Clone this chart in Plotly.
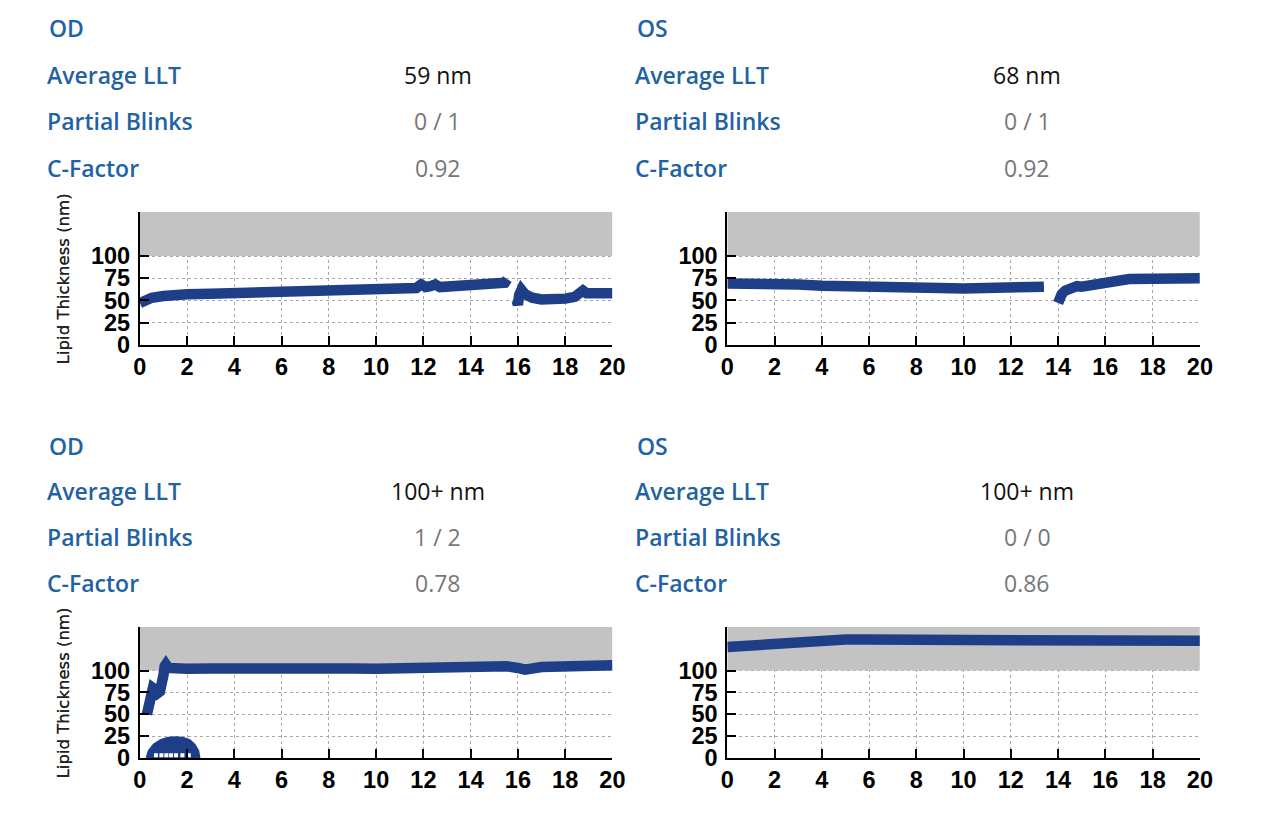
import plotly.graph_objects as go

W, H = 1255, 810
# measured mapping from figure pixels to the photographed window pixels
SX, SY, OX, OY = 0.985, 0.9835, 14.0, 8.4

# ---------------- data ----------------
# Panel A (top-left, OD)
a_x1 = [0, 0.2, 0.5, 1.0, 1.5, 2, 3, 4, 5, 6, 7, 7.5, 8, 9, 10, 11, 11.7, 11.9, 12.1, 12.3, 12.5, 12.7, 13, 14, 15, 15.3, 15.45, 15.55]
a_y1 = [47, 50, 53, 55, 57, 57, 57.5, 58, 59, 60, 60.5, 61, 61.5, 62, 62.5, 63.5, 64, 68, 65, 66, 68, 65, 65.5, 66.5, 67, 68, 70, 74]
a_x2 = [15.95, 16.0, 16.05, 16.15, 16.3, 16.6, 17, 17.5, 18, 18.4, 18.6, 18.75, 18.9, 19.2, 20]
a_y2 = [50, 45, 56, 62, 57, 53, 51, 50.5, 52, 54, 57, 61, 58, 58, 58]

# Panel B (top-right, OS)
b_x1 = [0, 1, 2, 3, 4, 5, 6, 7, 8, 9, 10, 11, 12, 13, 13.4]
b_y1 = [69, 69.5, 69.5, 68, 66.5, 65.5, 65, 64.5, 64.5, 64, 63.5, 64, 64.5, 65, 65.5]
b_x2 = [14.0, 14.05, 14.15, 14.3, 14.5, 14.8, 15.0, 15.3, 15.6, 16, 16.5, 17, 18, 19, 19.5, 20]
b_y2 = [47, 52, 57, 61, 64, 66, 65.5, 67, 69, 72, 73.5, 74, 74.5, 76, 75.5, 75]

# Panel C (bottom-left, OD)
c_x = [0.3, 0.35, 0.45, 0.55, 0.65, 0.75, 0.85, 0.95, 1.0, 1.05, 1.1, 1.2, 1.5, 2, 3, 4, 5, 6, 7, 8, 9, 10, 11, 12, 13, 14, 15, 15.5, 16, 16.3, 17, 18, 19, 20]
c_y = [50, 60, 75, 80, 78, 74, 76, 84, 95, 105, 107, 103, 102, 102, 102.5, 103, 102, 101, 101.5, 103, 102.5, 102, 103, 104, 104, 106, 106, 105, 103, 101, 104, 105.5, 107, 106]
c_dome_x = [0.3, 0.4, 0.6, 0.9, 1.2, 1.5, 1.8, 2.1, 2.3, 2.45, 2.5, 0.3]
c_dome_y = [0, 8, 15, 20, 22.5, 23, 22.5, 20, 15, 8, 0, 0]
c_dots_x = [0.68, 0.91, 1.12, 1.32, 1.53, 1.8, 2.07]
c_dots_y = [3, 3, 3, 3, 3, 3, 3]

# Panel D (bottom-right, OS)
d_x = [0, 0.5, 1, 1.5, 2, 2.5, 3, 3.5, 4, 5, 6, 7, 8, 9, 10, 11, 12, 13, 14, 15, 16, 16.5, 17, 17.5, 18, 19, 20]
d_y = [127, 128, 129, 129.5, 130, 130, 131.5, 133.5, 135, 135.5, 135.5, 135.5, 135, 135, 135, 135, 135, 135, 135, 135, 135.5, 135, 133.5, 133.5, 134, 134.5, 134]

x_ticks = [0, 2, 4, 6, 8, 10, 12, 14, 16, 18, 20]
y_ticks = [0, 25, 50, 75, 100]
y_title = "Lipid Thickness (nm)"

headers = [
    ("OD", "59 nm", "0 / 1", "0.92"),
    ("OS", "68 nm", "0 / 1", "0.92"),
    ("OD", "100+ nm", "1 / 2", "0.78"),
    ("OS", "100+ nm", "0 / 0", "0.86"),
]
row_labels = ["Average LLT", "Partial Blinks", "C-Factor"]

# ---------------- styling ----------------
LINE = "#1e3f88"
BLUE = "#1f62a5"
GRAY_TXT = "#777777"
BAND = "#c3c3c3"
FONT = "Open Sans"
TICKFONT = dict(family="Liberation Sans", size=23.5, color="black", weight="bold")

def px_x(p):
    return ((p - OX) / SX) / W

def px_y(p):
    return 1 - ((p - OY) / SY) / H

# panel geometry in window pixels: (x0, x1, y of value 0, y of value 150)
panels = [
    (139, 612, 345, 212),
    (727, 1200, 345, 212),
    (139, 612, 758, 627),
    (727, 1200, 758, 627),
]
# header positions (label x, value center x, [y of title, row1, row2, row3])
header_pos = [
    (44, 437, [28, 75, 121, 168]),
    (633, 1027, [28, 75, 121, 168]),
    (44, 437, [446, 491, 537, 583]),
    (633, 1027, [446, 491, 537, 583]),
]

fig = go.Figure()

def add_line(x, y, i):
    sfx = "" if i == 0 else str(i + 1)
    fig.add_trace(go.Scatter(x=x, y=y, mode="lines",
                             line=dict(color=LINE, width=10.5),
                             xaxis="x" + sfx, yaxis="y" + sfx,
                             showlegend=False, hoverinfo="x+y"))

add_line(a_x1, a_y1, 0)
add_line(a_x2, a_y2, 0)
add_line(b_x1, b_y1, 1)
add_line(b_x2, b_y2, 1)
add_line(c_x, c_y, 2)
fig.add_trace(go.Scatter(x=c_dome_x, y=c_dome_y, mode="lines", fill="toself",
                         fillcolor=LINE, line=dict(color=LINE, width=3),
                         xaxis="x3", yaxis="y3", showlegend=False))
fig.add_trace(go.Scatter(x=c_dots_x, y=c_dots_y, mode="markers",
                         marker=dict(color="white", size=4, symbol="square"),
                         xaxis="x3", yaxis="y3", showlegend=False))
add_line(d_x, d_y, 3)

layout = dict(
    width=W, height=H, autosize=False,
    margin=dict(l=0, r=0, t=0, b=0, pad=0),
    paper_bgcolor="white", plot_bgcolor="white",
    showlegend=False,
    annotations=[], shapes=[],
)

for i, (x0, x1, yb, yt) in enumerate(panels):
    sfx = "" if i == 0 else str(i + 1)
    xa = dict(
        domain=[px_x(x0), px_x(x1)], range=[0, 20],
        anchor="y" + sfx,
        tickmode="array", tickvals=x_ticks,
        ticks="inside", ticklen=9, tickwidth=2, tickcolor="black",
        showline=True, linecolor="black", linewidth=2,
        showgrid=True, gridcolor="#a8a8a8", gridwidth=1, griddash="dot",
        zeroline=False, tickfont=TICKFONT, ticklabelstandoff=0,
        fixedrange=True,
    )
    ya = dict(
        domain=[px_y(yb), px_y(yt)], range=[0, 150],
        anchor="x" + sfx,
        tickmode="array", tickvals=y_ticks,
        ticks="inside", ticklen=9, tickwidth=2, tickcolor="black",
        showline=True, linecolor="black", linewidth=2,
        showgrid=True, gridcolor="#a8a8a8", gridwidth=1, griddash="dot",
        zeroline=False, tickfont=TICKFONT, ticklabelstandoff=3,
        fixedrange=True,
    )
    layout["xaxis" + sfx] = xa
    layout["yaxis" + sfx] = ya
    layout["shapes"].append(dict(
        type="rect", xref="x" + sfx, yref="y" + sfx,
        x0=0, x1=20, y0=100, y1=150,
        fillcolor=BAND, line=dict(width=0), layer="between",
    ))
    # y-axis title
    layout["annotations"].append(dict(
        text=y_title, xref="paper", yref="paper",
        x=px_x(62), y=px_y((yb + yt) / 2), textangle=-90,
        showarrow=False, xanchor="center", yanchor="middle",
        font=dict(family="DejaVu Sans", size=16.5, color="#222222"),
    ))
    # header text
    lx, vx, ys = header_pos[i]
    title, v1, v2, v3 = headers[i]
    layout["annotations"].append(dict(
        text=title, xref="paper", yref="paper", x=px_x(lx + 2), y=px_y(ys[0]),
        showarrow=False, xanchor="left", yanchor="middle",
        font=dict(family=FONT, size=23, color=BLUE, weight=600),
    ))
    for lab, val, yy, col in zip(row_labels, [v1, v2, v3], ys[1:],
                                 ["#111111", GRAY_TXT, GRAY_TXT]):
        layout["annotations"].append(dict(
            text=lab, xref="paper", yref="paper", x=px_x(lx), y=px_y(yy),
            showarrow=False, xanchor="left", yanchor="middle",
            font=dict(family=FONT, size=23, color=BLUE, weight=600),
        ))
        layout["annotations"].append(dict(
            text=val, xref="paper", yref="paper", x=px_x(vx), y=px_y(yy),
            showarrow=False, xanchor="center", yanchor="middle",
            font=dict(family=FONT, size=23, color=col, weight=500),
        ))

fig.update_layout(**layout)
fig.write_html("out.html", default_width=f"{W}px", default_height=f"{H}px")
